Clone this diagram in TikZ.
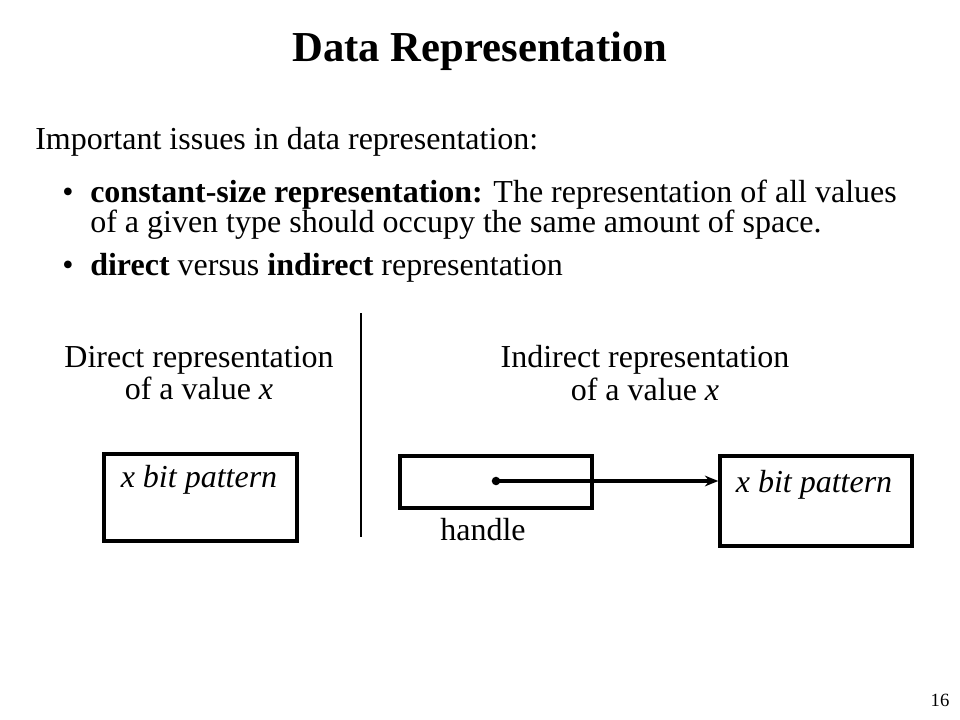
\documentclass[tikz,border=0pt]{standalone}
\usepackage{fontspec}
\setmainfont{Liberation Serif}
\usetikzlibrary{arrows.meta}
\tikzset{
  txt/.style={inner sep=0pt, font=\fontsize{24}{30}\selectfont},
  boxst/.style={draw, line width=2.6pt, inner sep=0pt},
  wire/.style={line width=2.4pt}
}
\begin{document}
\begin{tikzpicture}[x=0.75pt,y=-0.75pt]
\useasboundingbox (0,0) rectangle (960,720);
\node[txt, font=\fontsize{32}{38}\selectfont\bfseries, anchor=base] (title) at (480,62) {Data Representation};
\node[txt, anchor=base west] (intro) at (35,150) {Important issues in data representation:};
\node[txt, anchor=base west] (b1) at (62,203) {•};
\node[txt, anchor=base west] (l1) at (90,203) {\textbf{constant-size representation:} The representation of all values};
\node[txt, anchor=base west] (l2) at (90,233) {of a given type should occupy the same amount of space.};
\node[txt, anchor=base west] (b2) at (62,276) {•};
\node[txt, anchor=base west] (l3) at (90,276) {\textbf{direct} versus \textbf{indirect} representation};
\node[txt, anchor=base] (d1) at (199,367) {Direct representation};
\node[txt, anchor=base] (d2) at (199,399) {of a value \textit{x}};
\node[txt, anchor=base] (i1) at (645,367) {Indirect representation};
\node[txt, anchor=base] (i2) at (645,400) {of a value \textit{x}};
\coordinate (vtop) at (361,313);
\coordinate (vbot) at (361,537);
\draw[line width=1.4pt] (vtop) -- (vbot);
% left box
\node[boxst, minimum width=144.75pt, minimum height=65.25pt] (lbox) at (200.5,497.5) {};
\node[txt, anchor=base] (lpat) at (199,487) {\textit{x bit pattern}};
% handle box
\node[boxst, minimum width=144pt, minimum height=39pt] (hbox) at (496,482) {};
\coordinate (dot) at (496,481);
\fill (dot) circle (3.2pt);
\node[txt, anchor=base] (hlabel) at (483,540) {handle};
% right box
\node[boxst, minimum width=144pt, minimum height=67.5pt] (rbox) at (816,501) {};
\node[txt, anchor=base] (rpat) at (814,492) {\textit{x bit pattern}};
\draw[wire, -{Stealth[length=10pt,width=8pt]}] (dot) -- (rbox.west |- dot);
% page number
\node[inner sep=0pt, font=\fontsize{14}{16}\selectfont, anchor=base] (pg) at (940,706) {16};
\end{tikzpicture}
\end{document}
